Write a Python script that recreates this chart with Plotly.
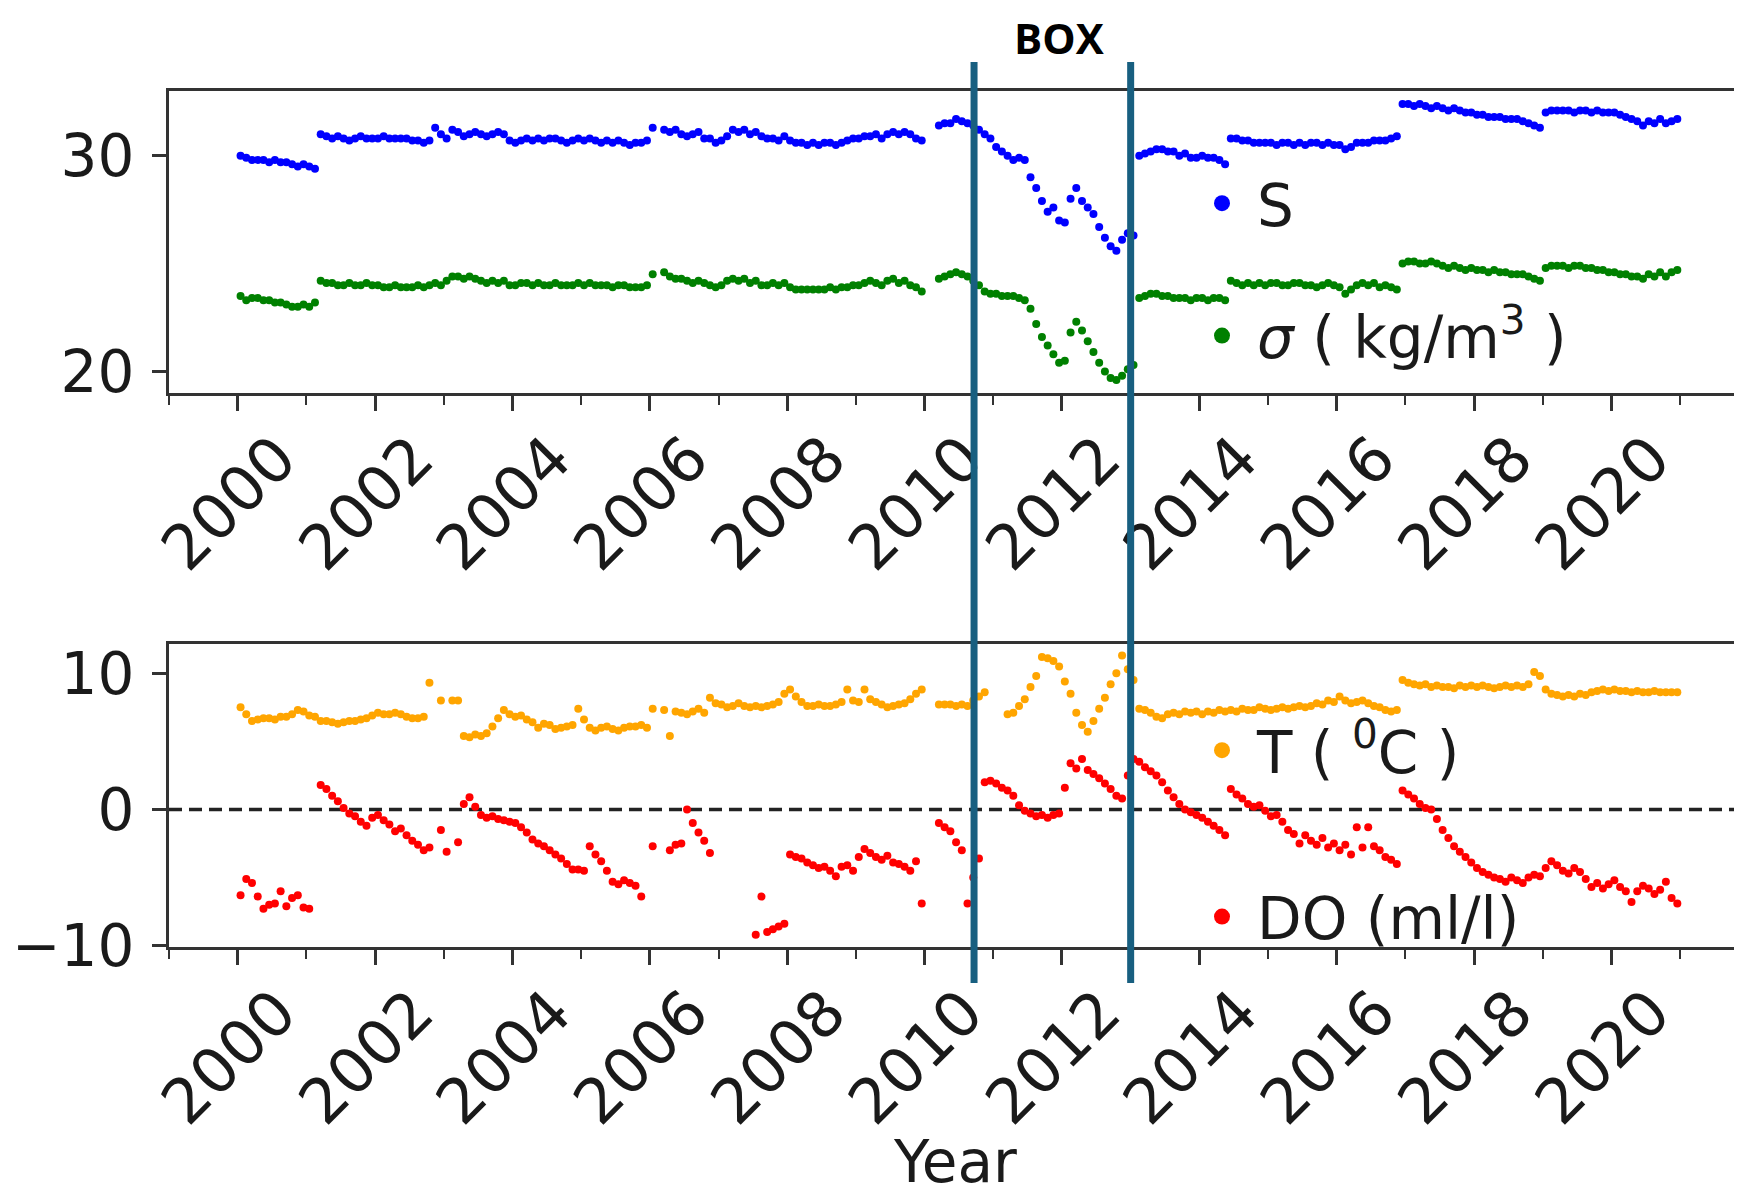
import plotly.graph_objects as go

N = None
YEARS = list(range(2000, 2021))
MONTHS = list(range(1, 13))

# Salinity S (monthly, Jan..Dec per row)
S = [
    30.0, 29.9, 29.8, 29.8, 29.8, 29.7, 29.8, 29.7, 29.7, 29.6, 29.5, 29.6,  # 2000
    29.5, 29.4, 31.0, 30.9, 30.8, 30.9, 30.8, 30.7, 30.8, 30.9, 30.8, 30.8,  # 2001
    30.8, 30.9, 30.8, 30.8, 30.8, 30.8, 30.7, 30.7, 30.6, 30.7, 31.3, 31.0,  # 2002
    30.8, 31.2, 31.1, 30.9, 31.0, 31.1, 31.0, 30.9, 31.0, 31.1, 31.0, 30.7,  # 2003
    30.6, 30.7, 30.8, 30.7, 30.8, 30.7, 30.8, 30.8, 30.7, 30.6, 30.7, 30.8,  # 2004
    30.7, 30.8, 30.7, 30.6, 30.7, 30.6, 30.7, 30.6, 30.5, 30.6, 30.6, 30.7,  # 2005
    31.3, N,    31.2, 31.1, 31.2, 31.0, 30.9, 31.0, 31.1, 30.8, 30.8, 30.6,  # 2006
    30.7, 30.9, 31.2, 31.1, 31.2, 31.0, 31.1, 30.9, 30.8, 30.8, 30.7, 30.9,  # 2007
    30.7, 30.6, 30.6, 30.5, 30.6, 30.5, 30.6, 30.6, 30.5, 30.6, 30.7, 30.8,  # 2008
    30.8, 30.9, 30.9, 31.0, 30.8, 31.0, 31.1, 31.0, 31.1, 31.0, 30.8, 30.7,  # 2009
    N,    N,    31.4, 31.5, 31.5, 31.7, 31.6, 31.5, 31.4, 31.2, 31.0, 30.8,  # 2010
    30.4, 30.2, 30.0, 29.8, 29.9, 29.8, 29.0, 28.5, 27.9, 27.4, 27.6, 27.0,  # 2011
    26.9, 28.0, 28.5, 27.9, 27.6, 27.3, 26.7, 26.2, 25.8, 25.6, 26.1, 26.4,  # 2012
    26.3, 30.0, 30.1, 30.2, 30.3, 30.3, 30.2, 30.2, 30.0, 30.1, 29.9, 29.9,  # 2013
    30.0, 29.9, 29.9, 29.8, 29.6, 30.8, 30.8, 30.7, 30.7, 30.6, 30.6, 30.6,  # 2014
    30.6, 30.5, 30.6, 30.6, 30.5, 30.6, 30.5, 30.6, 30.6, 30.5, 30.6, 30.5,  # 2015
    30.5, 30.3, 30.4, 30.6, 30.6, 30.6, 30.7, 30.7, 30.7, 30.8, 30.9, 32.4,  # 2016
    32.4, 32.3, 32.4, 32.3, 32.2, 32.3, 32.2, 32.1, 32.2, 32.1, 32.0, 32.0,  # 2017
    31.9, 31.9, 31.8, 31.8, 31.8, 31.7, 31.7, 31.7, 31.6, 31.5, 31.4, 31.3,  # 2018
    32.0, 32.1, 32.1, 32.1, 32.1, 32.0, 32.1, 32.1, 32.0, 32.1, 32.0, 32.0,  # 2019
    32.0, 31.9, 31.8, 31.7, 31.6, 31.4, 31.6, 31.5, 31.7, 31.5, 31.6, 31.7,  # 2020
]

# Density sigma (kg/m3)
SIGMA = [
    23.5, 23.3, 23.4, 23.4, 23.3, 23.3, 23.2, 23.2, 23.1, 23.0, 23.0, 23.1,  # 2000
    23.0, 23.2, 24.2, 24.1, 24.1, 24.0, 24.0, 24.1, 24.0, 24.0, 24.1, 24.0,  # 2001
    24.0, 23.9, 23.9, 24.0, 23.9, 23.9, 23.9, 24.0, 23.9, 24.0, 24.1, 24.0,  # 2002
    24.2, 24.4, 24.4, 24.3, 24.4, 24.3, 24.2, 24.1, 24.2, 24.1, 24.2, 24.0,  # 2003
    24.0, 24.1, 24.1, 24.0, 24.1, 24.0, 24.0, 24.1, 24.0, 24.0, 24.0, 24.1,  # 2004
    24.0, 24.1, 24.0, 24.0, 24.0, 23.9, 24.0, 24.0, 23.9, 23.9, 23.9, 24.0,  # 2005
    24.5, N,    24.6, 24.4, 24.3, 24.3, 24.2, 24.1, 24.2, 24.1, 24.0, 23.9,  # 2006
    24.0, 24.2, 24.3, 24.2, 24.3, 24.1, 24.2, 24.0, 24.0, 24.1, 24.0, 24.1,  # 2007
    23.9, 23.8, 23.8, 23.8, 23.8, 23.8, 23.8, 23.9, 23.8, 23.9, 23.9, 24.0,  # 2008
    24.0, 24.1, 24.2, 24.1, 24.0, 24.2, 24.3, 24.1, 24.2, 24.0, 23.9, 23.7,  # 2009
    N,    N,    24.3, 24.4, 24.5, 24.6, 24.5, 24.4, 24.2, 24.0, 23.7, 23.6,  # 2010
    23.6, 23.5, 23.5, 23.5, 23.4, 23.3, 22.9, 22.2, 21.6, 21.2, 20.8, 20.4,  # 2011
    20.5, 21.8, 22.3, 21.9, 21.4, 20.9, 20.4, 20.0, 19.7, 19.6, 19.8, 20.1,  # 2012
    20.3, 23.4, 23.5, 23.6, 23.6, 23.5, 23.5, 23.4, 23.4, 23.4, 23.3, 23.4,  # 2013
    23.4, 23.3, 23.4, 23.4, 23.3, 24.2, 24.1, 24.0, 24.1, 24.0, 24.1, 24.0,  # 2014
    24.1, 24.1, 24.0, 24.0, 24.1, 24.1, 24.0, 24.0, 23.9, 24.0, 24.1, 24.0,  # 2015
    23.9, 23.6, 23.8, 24.0, 24.1, 24.0, 24.1, 23.9, 24.0, 23.9, 23.8, 25.0,  # 2016
    25.1, 25.1, 25.0, 25.0, 25.1, 25.0, 24.9, 24.8, 24.9, 24.8, 24.7, 24.8,  # 2017
    24.7, 24.7, 24.6, 24.7, 24.6, 24.6, 24.5, 24.5, 24.5, 24.4, 24.3, 24.2,  # 2018
    24.8, 24.9, 24.9, 24.9, 24.8, 24.9, 24.9, 24.8, 24.8, 24.7, 24.7, 24.6,  # 2019
    24.6, 24.5, 24.5, 24.4, 24.4, 24.3, 24.5, 24.4, 24.6, 24.4, 24.6, 24.7,  # 2020
]

# Temperature T (deg C)
T = [
    7.5, 7.0, 6.5, 6.6, 6.7, 6.7, 6.6, 6.8, 6.8, 7.0, 7.3, 7.2,   # 2000
    6.9, 6.8, 6.5, 6.5, 6.4, 6.3, 6.4, 6.5, 6.5, 6.6, 6.7, 6.9,   # 2001
    7.1, 7.0, 7.0, 7.1, 7.0, 6.8, 6.7, 6.7, 6.8, 9.3, N,   8.0,   # 2002
    N,   8.0, 8.0, 5.4, 5.3, 5.5, 5.4, 5.6, 6.1, 6.7, 7.3, 7.0,   # 2003
    6.8, 6.9, 6.6, 6.4, 6.0, 6.3, 6.2, 5.9, 6.0, 6.1, 6.2, 7.4,   # 2004
    6.6, 6.0, 5.8, 6.0, 6.1, 5.9, 5.8, 6.0, 6.1, 6.1, 6.2, 6.0,   # 2005
    7.4, N,   7.3, 5.4, 7.2, 7.1, 7.0, 7.2, 7.4, 7.1, 8.2, 7.8,   # 2006
    7.7, 7.5, 7.6, 7.8, 7.6, 7.5, 7.6, 7.5, 7.6, 7.7, 7.9, 8.5,   # 2007
    8.8, 8.3, 7.9, 7.6, 7.6, 7.7, 7.6, 7.6, 7.7, 7.9, 8.8, 8.0,   # 2008
    7.9, 8.8, 8.1, 7.9, 7.7, 7.5, 7.6, 7.7, 7.8, 8.1, 8.5, 8.8,   # 2009
    N,   N,   7.7, 7.7, 7.7, 7.6, 7.7, 7.6, 8.0, 8.3, 8.6, N,     # 2010
    N,   N,   7.0, 7.1, 7.6, 8.1, 9.0, 9.8, 11.2, 11.1, 10.9, 10.5,  # 2011
    9.4, 8.5, 7.1, 6.2, 5.7, 6.5, 7.4, 8.2, 9.2, 10.0, 11.3, 10.3,  # 2012
    9.5, 7.4, 7.3, 7.1, 6.8, 6.7, 7.0, 7.1, 7.0, 7.2, 7.1, 7.2,   # 2013
    7.0, 7.2, 7.1, 7.3, 7.2, 7.3, 7.2, 7.4, 7.3, 7.3, 7.5, 7.4,   # 2014
    7.3, 7.4, 7.5, 7.4, 7.5, 7.6, 7.5, 7.6, 7.8, 7.7, 8.0, 7.9,   # 2015
    8.3, 8.0, 7.8, 7.9, 8.0, 7.8, 7.6, 7.5, 7.3, 7.2, 7.3, 9.5,   # 2016
    9.3, 9.2, 9.1, 9.2, 9.0, 9.1, 9.0, 9.0, 8.9, 9.1, 9.0, 9.1,   # 2017
    9.0, 9.1, 9.0, 8.9, 9.0, 9.1, 9.0, 9.1, 9.0, 9.2, 10.1, 9.8,  # 2018
    8.8, 8.5, 8.4, 8.3, 8.4, 8.3, 8.5, 8.4, 8.6, 8.7, 8.8, 8.7,   # 2019
    8.8, 8.7, 8.7, 8.6, 8.7, 8.6, 8.6, 8.7, 8.6, 8.6, 8.6, 8.6,   # 2020
]

# Dissolved oxygen DO (ml/l)
DO = [
    -6.3, -5.1, -5.4, -6.4, -7.3, -7.0, -6.9, -6.0, -7.1, -6.5, -6.3, -7.2,  # 2000
    -7.3, N,    1.8,  1.5,  1.0,  0.6,  0.1,  -0.3, -0.5, -0.9, -1.2, -0.6,  # 2001
    -0.4, -0.8, -1.1, -1.6, -1.4, -1.9, -2.3, -2.6, -3.0, -2.8, N,    -1.5,  # 2002
    -3.1, N,    -2.4, 0.4,  0.9,  0.2,  -0.4, -0.6, -0.5, -0.7, -0.8, -0.9,  # 2003
    -1.0, -1.3, -1.7, -2.2, -2.5, -2.7, -3.0, -3.3, -3.6, -4.0, -4.4, -4.4,  # 2004
    -4.5, -2.7, -3.3, -3.8, -4.5, -5.3, -5.5, -5.2, -5.4, -5.6, -6.4, N,     # 2005
    -2.7, N,    N,    -3.0, -2.6, -2.5, 0.0,  -1.0, -1.7, -2.3, -3.2, N,     # 2006
    N,    N,    N,    N,    N,    N,    -9.2, -6.4, -9.0, -8.8, -8.6, -8.4,  # 2007
    -3.3, -3.5, -3.6, -3.9, -4.1, -4.3, -4.2, -4.5, -4.9, -4.2, -4.1, -4.5,  # 2008
    -3.5, -2.9, -3.2, -3.5, -3.7, -3.4, -3.9, -4.0, -4.2, -4.5, -3.8, -6.9,  # 2009
    N,    N,    -1.0, -1.3, -1.6, -2.4, -3.0, -6.9, -5.0, -3.6, 2.0,  2.1,   # 2010
    1.9,  1.6,  1.4,  1.0,  0.3,  -0.1, -0.3, -0.5, -0.4, -0.6, -0.4, -0.3,  # 2011
    1.6,  3.4,  3.0,  3.7,  2.9,  2.6,  2.3,  1.9,  1.5,  1.0,  0.8,  2.5,   # 2012
    3.7,  3.5,  3.1,  2.8,  2.5,  2.0,  1.4,  0.9,  0.4,  0.0,  -0.2, -0.4,  # 2013
    -0.6, -0.9, -1.2, -1.5, -1.9, 1.5,  1.1,  0.8,  0.4,  0.2,  0.3,  -0.1,  # 2014
    -0.5, -0.4, -0.9, -1.5, -1.8, -2.5, -1.9, -2.3, -2.6, -2.1, -2.8, -2.5,  # 2015
    -3.0, -2.6, -3.3, -1.3, -2.8, -1.3, -2.7, -3.0, -3.5, -3.7, -4.0, 1.4,   # 2016
    1.1,  0.8,  0.4,  0.1,  0.0,  -0.7, -1.5, -2.1, -2.7, -3.1, -3.5, -3.9,  # 2017
    -4.3, -4.6, -4.8, -5.0, -5.1, -5.3, -5.0, -5.2, -5.4, -5.0, -4.8, -4.9,  # 2018
    -4.3, -3.8, -4.1, -4.5, -4.7, -4.3, -4.6, -5.1, -5.7, -5.4, -5.8, -5.5,  # 2019
    -5.2, -5.7, -6.0, -6.8, -6.0, -5.6, -5.8, -6.2, -5.9, -5.3, -6.5, -6.9,  # 2020
]

X_TICKS = [2000, 2002, 2004, 2006, 2008, 2010, 2012, 2014, 2016, 2018, 2020]
BOX_START, BOX_END = 2010.72, 2013.0
LABELS = ["S", "<i>σ</i> ( kg/m<sup>3</sup> )", "T ( <sup>0</sup>C )", "DO (ml/l)"]
COLORS = ["#0000ff", "#008000", "#ffa500", "#ff0000"]

# decimal-year time stamps (mid-month)
TIME = [y + (m - 0.5) / 12 for y in YEARS for m in MONTHS]

# the page body adds an 8px margin; size the figure so it ends at the window edge
OFF = 8
W, H = 1742 - OFF, 1196 - OFF


def py(page_y):
    return 1 - (page_y - OFF) / H


def px(page_x):
    return (page_x - OFF) / W


FONT = "DejaVu Sans"
INK = "#1a1a1a"

fig = go.Figure()
series = [("x", "y", "legend"), ("x", "y", "legend"), ("x2", "y2", "legend2"), ("x2", "y2", "legend2")]
for vals, lab, col, (xa, ya, lg) in zip([S, SIGMA, T, DO], LABELS, COLORS, series):
    fig.add_trace(go.Scatter(x=TIME, y=vals, mode="markers", xaxis=xa, yaxis=ya,
                             marker=dict(color=col, size=8, line=dict(width=0)),
                             showlegend=False, hoverinfo="skip"))
    # legend proxy with a bigger dot
    fig.add_trace(go.Scatter(x=[None], y=[None], mode="markers", xaxis=xa, yaxis=ya,
                             marker=dict(color=col, size=16), name=lab, legend=lg,
                             legendgroup=lab, showlegend=True))

xcommon = dict(range=[1999.0, 2021.9], domain=[px(169), 1.0], showgrid=False, zeroline=False,
               showline=True, mirror=True, linecolor="#333", linewidth=3,
               tickmode="array", tickvals=X_TICKS, ticktext=[str(v) for v in X_TICKS],
               ticks="outside", ticklen=15, tickwidth=2.5, tickcolor="#333",
               tickangle=-45, ticklabelshift=40, ticklabelstandoff=-14,
               tickfont=dict(family=FONT, size=62, color=INK),
               minor=dict(dtick=1, tick0=1999, ticks="outside", ticklen=9, tickwidth=2, tickcolor="#333"))
ycommon = dict(showgrid=False, zeroline=False, showline=True, mirror=False, linecolor="#333",
               linewidth=3, ticks="outside", ticklen=14, tickwidth=2.5, tickcolor="#333",
               ticklabelstandoff=6, tickfont=dict(family=FONT, size=58, color=INK),
               dtick=10, automargin=False)

LEGFONT = dict(family=FONT, size=58, color=INK)
fig.update_layout(
    width=W, height=H,
    margin=dict(l=0, r=0, t=0, b=0, autoexpand=False),
    paper_bgcolor="white", plot_bgcolor="white",
    xaxis=dict(**xcommon, anchor="y", automargin=False),
    yaxis=dict(**ycommon, range=[19.0, 33.0], domain=[py(393), py(91)], anchor="x"),
    xaxis2=dict(**xcommon, anchor="y2", automargin=True,
                title=dict(text="Year", font=dict(family=FONT, size=58, color=INK), standoff=16)),
    yaxis2=dict(**ycommon, range=[-10.1, 12.15], domain=[py(947), py(644)], anchor="x2"),
    legend=dict(x=px(1187), y=py(159), xanchor="left", yanchor="top", bgcolor="rgba(0,0,0,0)",
                font=LEGFONT, tracegroupgap=54, itemwidth=60),
    legend2=dict(x=px(1187), y=py(706), xanchor="left", yanchor="top", bgcolor="rgba(0,0,0,0)",
                 font=LEGFONT, tracegroupgap=88, itemwidth=60),
)

# horizontal zero reference line in lower panel
fig.add_shape(type="line", xref="x2 domain", yref="y2", x0=0, x1=1, y0=0, y1=0,
              line=dict(color="#222", width=3.5, dash="13px,7px"), layer="below")

# BOX marker lines
for xv in (BOX_START, BOX_END):
    fig.add_shape(type="line", xref="x", yref="paper", x0=xv, x1=xv, y0=py(983), y1=py(62),
                  line=dict(color="#185f80", width=7), layer="above")
fig.add_annotation(x=(BOX_START + BOX_END) / 2 + 0.1, y=1.0, xref="x", yref="paper",
                   text="<b>BOX</b>", showarrow=False, xanchor="center", yanchor="top",
                   borderpad=0, font=dict(family="Open Sans", size=42, color="#000"))

fig.write_html("out.html")
